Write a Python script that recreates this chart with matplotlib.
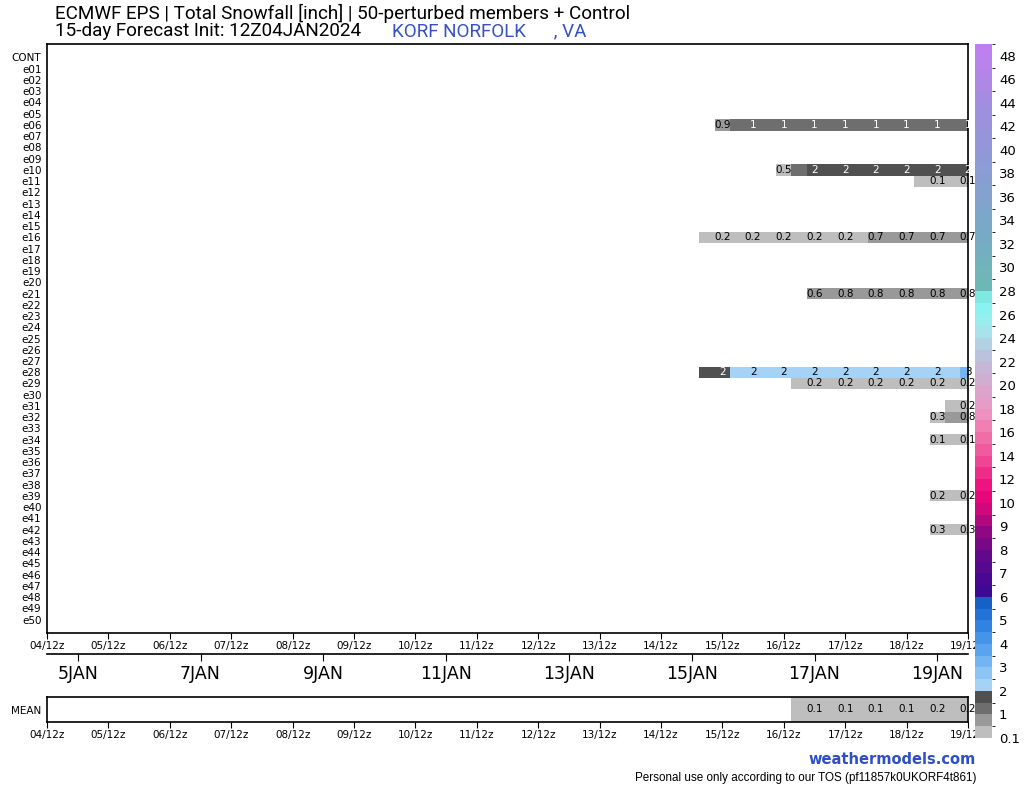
import numpy as np
import matplotlib
matplotlib.use("Agg")
import matplotlib.pyplot as plt
from matplotlib.colors import ListedColormap, BoundaryNorm, LinearSegmentedColormap, to_hex
import matplotlib.colorbar as mcolorbar

# rows (top to bottom)
members = ["CONT"] + [f"e{i:02d}" for i in range(1, 51)]

# 6-hourly totals from 15/06z to 19/12z (18 steps)
step_days = [10.75 + 0.25 * i for i in range(18)]  # days after 04/12z

e06 = [0, 0.9, 1.0, 1.1, 1.1, 1.1, 1.1, 1.1, 1.1, 1.1, 1.1, 1.1, 1.1, 1.1, 1.1, 1.1, 1.1, 1.1]
e10 = [0, 0, 0, 0, 0, 0.48, 1.2, 1.7, 1.7, 1.8, 1.8, 1.8, 1.8, 1.8, 1.8, 1.8, 1.8, 1.8]
e11 = [0] * 14 + [0.1, 0.1, 0.1, 0.1]
e16 = [0.1, 0.2, 0.2, 0.2, 0.2, 0.2, 0.2, 0.2, 0.2, 0.2, 0.3, 0.7, 0.7, 0.7, 0.7, 0.7, 0.7, 0.7]
e21 = [0] * 7 + [0.6, 0.7, 0.8, 0.8, 0.8, 0.8, 0.8, 0.8, 0.8, 0.8, 0.8]
e28 = [1.6, 1.8, 2.1, 2.2, 2.2, 2.2, 2.2, 2.2, 2.3, 2.3, 2.3, 2.3, 2.3, 2.3, 2.3, 2.4, 2.4, 3.0]
e29 = [0] * 6 + [0.1] + [0.2] * 11
e31 = [0] * 16 + [0.1, 0.2]
e32 = [0] * 15 + [0.3, 0.6, 0.8]
e34 = [0] * 15 + [0.1, 0.1, 0.1]
e39 = [0] * 15 + [0.2, 0.2, 0.2]
e42 = [0] * 15 + [0.3, 0.3, 0.3]
ens_mean = [0] * 6 + [0.1] * 8 + [0.15, 0.2, 0.2, 0.2]

snowy = {"e06": e06, "e10": e10, "e11": e11, "e16": e16, "e21": e21, "e28": e28,
         "e29": e29, "e31": e31, "e32": e32, "e34": e34, "e39": e39, "e42": e42}

xtick_labels = [f"{d:02d}/12z" for d in range(4, 20)]
date_labels = [f"{d}JAN" for d in range(5, 20, 2)]

# colour scale
bounds = [0.1, 0.5] + list(np.arange(1, 10.5, 0.5)) + list(range(11, 49)) + [50]
cb_ticks = [0.1] + list(range(1, 11)) + list(range(12, 49, 2))
grays = ["#bebebe", "#999999", "#6e6e6e", "#505050"]
blues = ["#a5d3f7", "#8cc4f4", "#74b4f2", "#5aa4ef", "#4494ea", "#3282e4", "#2372d8", "#1462c6"]
purples = ["#3d0a96", "#4a0892", "#56088e", "#62088a", "#780886", "#8e0884", "#b0087e", "#d0087c"]
pinks = ["#e6087a", "#ee1480", "#f02c8a", "#f04494", "#f05a9e", "#f06ea8", "#f080b4", "#ee90c0",
         "#e69cc8", "#dca4cc", "#d0aed2", "#c6b6d8", "#bcc2de", "#b2d2e4", "#a8e2ea", "#98eeee",
         "#8af2f0", "#80e8e2"]
tail = LinearSegmentedColormap.from_list("tail", ["#6cb8b6", "#7aa8c8", "#8c9cd6", "#a08ede", "#c07ff0"])
tops = [to_hex(tail(i / 20)) for i in range(21)]
cmap = ListedColormap(grays + blues + purples + pinks + tops)
norm = BoundaryNorm(bounds, cmap.N)

plt.rcParams["font.family"] = "DejaVu Sans"
fig = plt.figure(figsize=(10.24, 7.88), dpi=100)

def fmt(v):
    return f"{v:.1f}" if v < 0.95 else f"{round(v):.0f}"

x_edges = [d - 0.125 for d in step_days] + [step_days[-1] + 0.125]

# main panel
ax = fig.add_axes([47 / 1024, 1 - 633 / 788, 921 / 1024, 589 / 788])
grid = np.zeros((len(members), len(step_days)))
for name, vals in snowy.items():
    grid[members.index(name)] = vals
ax.pcolormesh(x_edges, np.arange(len(members) + 1) - 0.5, np.ma.masked_less(grid, 0.1),
              cmap=cmap, norm=norm)
for r in range(len(members)):
    for i in range(1, len(step_days), 2):
        v = grid[r, i]
        if v >= 0.1:
            ax.text(step_days[i], r, fmt(v), ha="center", va="center", fontsize=7.5,
                    color="white" if 1 <= v < 2 else "black", clip_on=False)
ax.set_xlim(0, 15)
ax.set_ylim(51.2, -1.2)
ax.set_yticks(range(len(members)))
ax.set_yticklabels(members, fontsize=7.5)
ax.tick_params(axis="y", length=0, pad=4)
ax.set_xticks(range(16))
ax.set_xticklabels(xtick_labels, fontsize=7.5)
ax.tick_params(axis="x", length=4, pad=2)
for s in ax.spines.values():
    s.set_linewidth(1.2)

# date axis
axd = fig.add_axes([47 / 1024, 1 - 654 / 788, 921 / 1024, 0.0001])
axd.set_xlim(0, 15)
axd.set_yticks([])
for s in ["top", "left", "right"]:
    axd.spines[s].set_visible(False)
axd.spines["bottom"].set_linewidth(1.2)
axd.set_xticks(np.arange(0.5, 15, 2))
axd.set_xticklabels(date_labels, fontsize=12.5)
axd.tick_params(axis="x", length=5, pad=3)
axd.patch.set_visible(False)

# mean row
axm = fig.add_axes([47 / 1024, 1 - 722 / 788, 921 / 1024, 25 / 788])
axm.pcolormesh(x_edges, [-0.5, 0.5], np.ma.masked_less([ens_mean], 0.1), cmap=cmap, norm=norm)
for i in range(1, len(step_days), 2):
    if ens_mean[i] >= 0.1:
        axm.text(step_days[i], 0, fmt(ens_mean[i]), ha="center", va="center", fontsize=7.5,
                 clip_on=False)
axm.set_xlim(0, 15)
axm.set_ylim(0.5, -0.5)
axm.set_yticks([0])
axm.set_yticklabels(["MEAN"], fontsize=7.5)
axm.tick_params(axis="y", length=0, pad=4)
axm.set_xticks(range(16))
axm.set_xticklabels(xtick_labels, fontsize=7.5)
axm.tick_params(axis="x", length=4, pad=2)
for s in axm.spines.values():
    s.set_linewidth(1.2)

# colour bar
cax = fig.add_axes([975 / 1024, 1 - 738 / 788, 17 / 1024, 694 / 788])
cb = mcolorbar.ColorbarBase(cax, cmap=cmap, norm=norm, boundaries=bounds,
                            spacing="uniform", ticks=cb_ticks)
cb.set_ticklabels(["0.1"] + [str(t) for t in cb_ticks[1:]])
cb.outline.set_visible(False)
cax.tick_params(length=0, labelsize=9.5, pad=5)

# titles
fig.text(55 / 1024, 1 - 13 / 788, "ECMWF EPS | Total Snowfall [inch] | 50-perturbed members + Control",
         fontsize=13.6, family="Roboto", va="center")
fig.text(55 / 1024, 1 - 31 / 788, "15-day Forecast Init: 12Z04JAN2024",
         fontsize=13.6, family="Roboto", va="center")
fig.text(392 / 1024, 1 - 31 / 788, "KORF NORFOLK      , VA",
         fontsize=13.6, family="Roboto", va="center", color="#3650c8")
fig.text(976 / 1024, 1 - 759 / 788, "weathermodels.com", fontsize=10.5, fontweight="bold",
         color="#2f4fc4", ha="right", va="center")
fig.text(976 / 1024, 1 - 778 / 788, "Personal use only according to our TOS (pf11857k0UKORF4t861)",
         fontsize=8.4, family="Liberation Sans", ha="right", va="center")

fig.savefig("out.png", dpi=100)
